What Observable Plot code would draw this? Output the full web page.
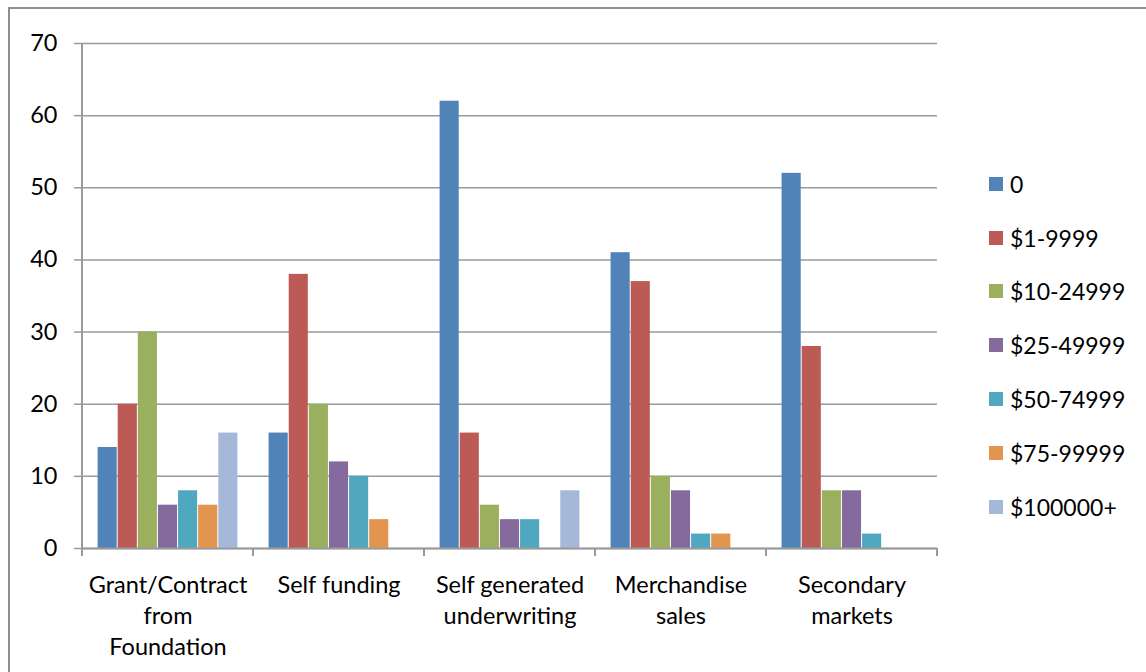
<!DOCTYPE html>
<html>
<head>
<meta charset="utf-8">
<script src="https://cdn.jsdelivr.net/npm/d3@7"></script>
<script src="https://cdn.jsdelivr.net/npm/@observablehq/plot@0.6"></script>
<style>
  html, body { margin: 0; padding: 0; background: #fff; }
  body { width: 1146px; height: 672px; position: relative; overflow: hidden; font-family: Lato, "Open Sans", sans-serif; }
  #frame { position: absolute; left: 8px; top: 7px; width: 1300px; height: 800px; border: 2px solid #8f8f8f; box-sizing: border-box; }
  #chart { position: absolute; left: 0; top: 0; }
  #legend { position: absolute; left: 989px; top: 157px; font-size: 23px; color: #000; }
  #legend .row { height: 53.8px; display: flex; align-items: center; }
  #legend .sw { width: 14px; height: 14px; margin-right: 7px; }
</style>
</head>
<body>
<div id="frame"></div>
<div id="chart"></div>
<div id="legend"></div>
<script>
const categories = ["Grant/Contract from Foundation", "Self funding", "Self generated underwriting", "Merchandise sales", "Secondary markets"];
const categoryLabels = ["Grant/Contract\nfrom\nFoundation", "Self funding", "Self generated\nunderwriting", "Merchandise\nsales", "Secondary\nmarkets"];
const series = ["0", "$1-9999", "$10-24999", "$25-49999", "$50-74999", "$75-99999", "$100000+"];
const colors = ["#5083B8", "#BC5A55", "#9BB05E", "#856A9E", "#50A8C0", "#E2954F", "#A5B8DA"];
const grantContract = [14, 20, 30, 6, 8, 6, 16];
const selfFunding = [16, 38, 20, 12, 10, 4, 0];
const selfGenerated = [62, 16, 6, 4, 4, 0, 8];
const merchandise = [41, 37, 10, 8, 2, 2, 0];
const secondary = [52, 28, 8, 8, 2, 0, 0];
const yTicks = [0, 10, 20, 30, 40, 50, 60, 70];

const valuesByCategory = [grantContract, selfFunding, selfGenerated, merchandise, secondary];
const data = [];
categories.forEach((c, i) => series.forEach((s, j) => data.push({cat: c, series: s, value: valuesByCategory[i][j]})));

const plot = Plot.plot({
  width: 1146,
  height: 672,
  marginLeft: 80,
  marginRight: 208,
  marginTop: 43,
  marginBottom: 124,
  style: {fontFamily: "Lato, 'Open Sans', sans-serif", fontSize: "23px", color: "#000", background: "transparent"},
  fx: {domain: categories, padding: 0, axis: null, label: null},
  x: {domain: series, padding: 0, paddingInner: 0, paddingOuter: 0.75, round: false, axis: null},
  y: {domain: [0, 70], axis: null},
  color: {domain: series, range: colors},
  marks: [
    Plot.gridY(yTicks, {stroke: "#9a9a9a", strokeOpacity: 1, strokeWidth: 1.5}),
    Plot.barY(data.filter(d => d.value > 0), {fx: "cat", x: "series", y: "value", fill: "series", insetLeft: 0.5, insetRight: 0.5}),
    Plot.ruleY([0], {stroke: "#9a9a9a", strokeWidth: 2}),
    Plot.axisY({ticks: yTicks, tickSize: 8, tickPadding: 17, stroke: "#9a9a9a", strokeWidth: 1.5, fontSize: 23.5, label: null}),
    Plot.axisFx({anchor: "bottom", tickSize: 0, tickPadding: 22, fontSize: 23.5, lineHeight: 1.33, label: null,
      tickFormat: c => categoryLabels[categories.indexOf(c)]})
  ]
});
document.getElementById("chart").appendChild(plot);

// axis line and category boundary ticks, positioned from the plot's own scales
const fx = plot.scale("fx");
const y = plot.scale("y");
const svg = d3.select(plot);
const y0 = y.apply(0), yTop = y.apply(70);
const xLeft = fx.apply(categories[0]);
const bw = fx.bandwidth;
svg.append("line").attr("x1", xLeft).attr("x2", xLeft).attr("y1", yTop).attr("y2", y0 + 8)
  .attr("stroke", "#9a9a9a").attr("stroke-width", 2);
const bounds = categories.map(c => fx.apply(c)).concat([fx.apply(categories[categories.length - 1]) + bw]);
bounds.forEach(bx => svg.append("line").attr("x1", bx).attr("x2", bx).attr("y1", y0).attr("y2", y0 + 8)
  .attr("stroke", "#9a9a9a").attr("stroke-width", 2));

// legend
const legend = d3.select("#legend");
series.forEach((s, i) => {
  const row = legend.append("div").attr("class", "row");
  row.append("div").attr("class", "sw").style("background", colors[i]);
  row.append("span").text(s);
});
</script>
</body>
</html>
